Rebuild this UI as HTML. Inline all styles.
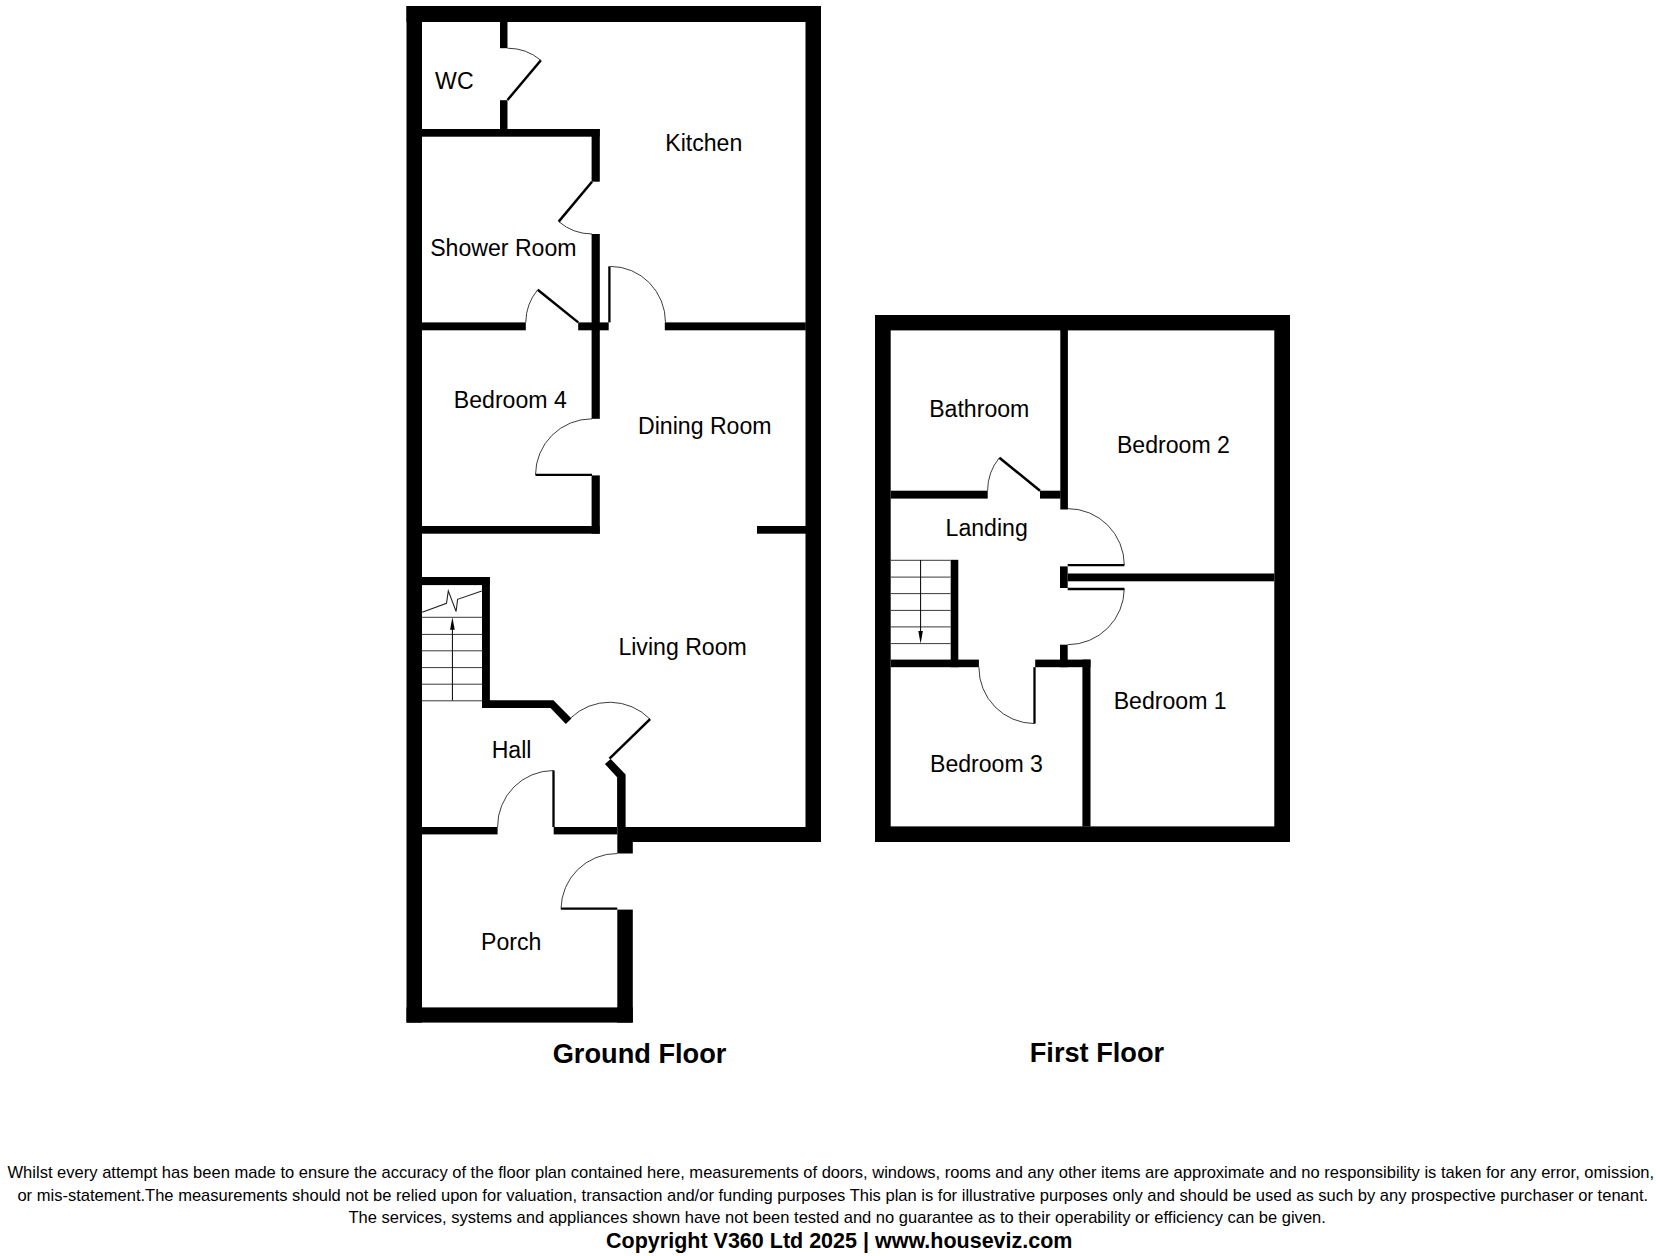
<!DOCTYPE html>
<html><head><meta charset="utf-8">
<style>
html,body{margin:0;padding:0;background:#fff;}
body{width:1656px;height:1256px;overflow:hidden;}
svg{display:block;}
text{font-family:"Liberation Sans",sans-serif;fill:#000;}
.lbl{font-size:23.1px;}
.ttl{font-size:27.2px;font-weight:bold;}
.ft{font-size:16.54px;}
.cp{font-size:21.5px;font-weight:bold;}
.arc{fill:none;stroke:#1a1a1a;stroke-width:0.85;}
.leaf{fill:none;stroke:#000;stroke-width:2.5;}
.leaft{fill:none;stroke:#000;stroke-width:2.3;}
.st{stroke:#3a3a3a;stroke-width:1;fill:none;}
</style></head>
<body>
<svg width="1656" height="1256" viewBox="0 0 1656 1256">
<g fill="#000">
<rect x="406.5" y="6" width="414.5" height="16"/>
<rect x="406.5" y="6" width="15.5" height="1016.6"/>
<rect x="805.5" y="6" width="15.5" height="836"/>
<rect x="625.5" y="827" width="195.5" height="15"/>
<rect x="617.3" y="827" width="15.5" height="26.5"/>
<rect x="617.3" y="909.6" width="15.5" height="113"/>
<rect x="406.5" y="1007.4" width="226.3" height="15.2"/>
<rect x="500" y="22" width="7.5" height="26.2"/>
<rect x="500" y="100.2" width="7.5" height="29"/>
<rect x="422" y="129" width="177.7" height="7.7"/>
<rect x="591.6" y="129" width="8.2" height="52.7"/>
<rect x="591.6" y="234" width="8.2" height="184.8"/>
<rect x="422" y="322.4" width="103.8" height="7.9"/>
<rect x="578.2" y="322.4" width="30.5" height="7.9"/>
<rect x="664.8" y="322.4" width="141" height="7.9"/>
<rect x="591.6" y="475.4" width="8.2" height="58.3"/>
<rect x="422" y="526" width="177.7" height="7.7"/>
<rect x="757" y="526" width="49" height="7.7"/>
<rect x="422" y="577" width="67.9" height="8.1"/>
<rect x="482" y="577" width="7.9" height="131"/>
<polygon points="482,700.3 553.4,700.3 571.5,718.4 565.8,724 550.5,708 482,708"/>
<polygon points="604.9,764 610.7,759 625.6,774.4 625.6,827 617.1,827 617.1,777.3"/>
<rect x="422" y="827" width="75.6" height="7.4"/>
<rect x="553.7" y="827" width="63.6" height="7.4"/>
<rect x="875" y="315" width="415" height="15.4"/>
<rect x="875" y="315" width="15.7" height="527"/>
<rect x="1274.3" y="315" width="15.7" height="527"/>
<rect x="875" y="826.4" width="415" height="15.6"/>
<rect x="1060.3" y="330" width="7.6" height="179.5"/>
<rect x="890.7" y="490.7" width="97" height="7.9"/>
<rect x="1040" y="490.7" width="20.5" height="7.9"/>
<rect x="1060" y="566.4" width="7.7" height="21.6"/>
<rect x="1067.7" y="573.5" width="206.6" height="7.8"/>
<rect x="1060" y="644.7" width="7.7" height="22.5"/>
<rect x="950.7" y="559.8" width="7.6" height="107.4"/>
<rect x="890.7" y="659.6" width="88.2" height="7.6"/>
<rect x="1035.2" y="659.6" width="55.3" height="7.6"/>
<rect x="1082.4" y="659.6" width="8.1" height="167"/>
</g>

<path class="leaf" d="M507.5,100 L540.9,60.3"/><path class="arc" d="M540.9,60.3 A52,52 0 0 0 507.5,48.2"/>
<path class="leaf" d="M592,181.7 L558.7,221.6"/><path class="arc" d="M558.7,221.6 A52,52 0 0 0 592,234"/>
<path class="leaf" d="M578.2,322.4 L537.7,289.7"/><path class="arc" d="M537.7,289.7 A52,52 0 0 0 525.8,322.4"/>
<path class="leaft" d="M609.4,322.4 L609.4,266.3"/><path class="arc" d="M610.5,266.4 A55,56 0 0 1 665.5,322.4"/>
<path class="leaft" d="M592,474.8 L535.5,474.8"/><path class="arc" d="M535.5,474.8 A56.5,56.2 0 0 1 592,418.8"/>
<path class="leaf" d="M609.5,758.6 L650.1,719.2"/><path class="arc" d="M650.1,719.2 A56.5,56.5 0 0 0 570.6,718"/>
<path class="leaft" d="M553.5,827 L553.5,770.5"/><path class="arc" d="M553.5,770.5 A56,56 0 0 0 497.6,827"/>
<path class="leaft" d="M617.3,908.6 L561,908.6"/><path class="arc" d="M561,909 A56,56 0 0 1 617.3,853.5"/>
<path class="leaf" d="M1040,490.7 L999.4,457.7"/><path class="arc" d="M999.4,457.7 A52.3,52.3 0 0 0 987.6,490.7"/>
<path class="leaft" d="M1067.7,565.2 L1124.3,565.2"/><path class="arc" d="M1124.3,565.2 A56.6,56.6 0 0 0 1067.7,508.6"/>
<path class="leaft" d="M1067.7,589 L1124.3,589"/><path class="arc" d="M1124.3,588.5 A56.6,56.6 0 0 1 1067.7,644.7"/>
<path class="leaft" d="M1034.5,667.2 L1034.5,723.6"/><path class="arc" d="M1034.5,723.6 A56,56 0 0 1 978.9,667.2"/>


<g class="st">
<path d="M422,617.3 H482 M422,634.4 H482 M422,650.8 H482 M422,667.6 H482 M422,684.2 H482 M422,700.8 H482"/>
<path d="M422.2,612.2 L446.5,603.3 L448.3,590.9 L456.1,611.5 L457.6,599.3 L481.8,591.1" stroke="#222" stroke-width="1.1"/>
<path d="M452.4,700.5 V628" stroke="#000"/>
</g>
<polygon points="452.4,617.3 450.1,629.8 454.7,629.8" fill="#000"/>
<g class="st">
<path d="M890.7,560.3 H950.7 M890.7,577.1 H950.7 M890.7,593.6 H950.7 M890.7,610.4 H950.7 M890.7,626.9 H950.7 M890.7,643.6 H950.7"/>
<path d="M920.6,560 V633" stroke="#000"/>
</g>
<polygon points="920.6,643.5 918.3,631 922.9,631" fill="#000"/>

<text class="lbl" x="435.08" y="89.20">WC</text>
<text class="lbl" x="665.24" y="150.70">Kitchen</text>
<text class="lbl" x="430.20" y="256.42">Shower Room</text>
<text class="lbl" x="453.80" y="407.64">Bedroom 4</text>
<text class="lbl" x="638.00" y="433.78">Dining Room</text>
<text class="lbl" x="618.40" y="655.14">Living Room</text>
<text class="lbl" x="491.64" y="758.44">Hall</text>
<text class="lbl" x="481.08" y="949.84">Porch</text>
<text class="lbl" x="929.20" y="416.60">Bathroom</text>
<text class="lbl" x="1116.96" y="452.76">Bedroom 2</text>
<text class="lbl" x="945.56" y="535.70">Landing</text>
<text class="lbl" x="1113.72" y="709.40">Bedroom 1</text>
<text class="lbl" x="930.00" y="772.40">Bedroom 3</text>
<text class="ttl" x="552.72" y="1062.64">Ground Floor</text>
<text class="ttl" x="1029.72" y="1062.16">First Floor</text>
<text class="ft" x="7.52" y="1178.24">Whilst every attempt has been made to ensure the accuracy of the floor plan contained here, measurements of doors, windows, rooms and any other items are approximate and no responsibility is taken for any error, omission,</text>
<text class="ft" x="17.40" y="1200.54">or mis-statement.The measurements should not be relied upon for valuation, transaction and/or funding purposes This plan is for illustrative purposes only and should be used as such by any prospective purchaser or tenant.</text>
<text class="ft" x="348.40" y="1222.52">The services, systems and appliances shown have not been tested and no guarantee as to their operability or efficiency can be given.</text>
<text class="cp" x="606.08" y="1248.12">Copyright V360 Ltd 2025 | www.houseviz.com</text>
</svg>
</body></html>
